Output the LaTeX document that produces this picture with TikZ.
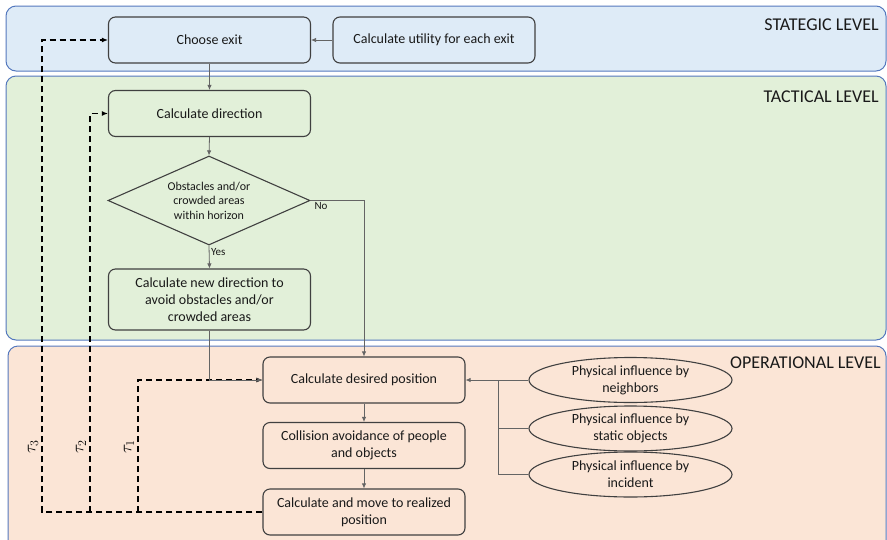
\documentclass[tikz,border=0pt]{standalone}
\usepackage{fontspec}
\setmainfont{Carlito}
\usetikzlibrary{shapes.geometric,arrows.meta}
\definecolor{stratfill}{RGB}{222,235,247}
\definecolor{tactfill}{RGB}{226,240,217}
\definecolor{operfill}{RGB}{251,229,214}
\definecolor{bandline}{RGB}{84,120,190}
\definecolor{boxline}{RGB}{64,64,64}
\definecolor{flowline}{RGB}{100,100,100}
\tikzset{
    band/.style={
        draw=bandline,
        line width=1pt,
        rounded corners=10pt
    },
    levelname/.style={
        anchor=east,
        inner sep=0pt,
        text=black!90,
        font=\fontsize{18}{20}\selectfont
    },
    procbox/.style={
        rectangle,
        draw=boxline,
        line width=1.1pt,
        rounded corners=7pt,
        minimum width=202pt,
        minimum height=46pt,
        inner sep=2pt,
        align=center,
        text=black!90,
        font=\fontsize{14}{17}\selectfont
    },
    decision/.style={
        diamond,
        draw=boxline,
        line width=1.1pt,
        aspect=2.27,
        minimum width=202pt,
        minimum height=89pt,
        inner sep=0pt,
        align=center,
        text=black!90,
        font=\fontsize{12}{14.5}\selectfont
    },
    influence/.style={
        ellipse,
        draw=boxline,
        line width=1.1pt,
        minimum width=203pt,
        minimum height=45pt,
        inner sep=0pt,
        align=center,
        text=black!90,
        font=\fontsize{14}{17}\selectfont
    },
    answer/.style={
        inner sep=1.5pt,
        text=black!90,
        font=\fontsize{11}{13}\selectfont
    },
    flow/.style={
        draw=flowline,
        line width=0.8pt,
        -{Latex[length=5pt,width=4.5pt]}
    },
    feedback/.style={
        draw=black,
        line width=1.6pt,
        dash pattern=on 6pt off 4pt,
        -{Latex[length=6pt,width=5pt]}
    },
    taulabel/.style={
        rotate=90,
        inner sep=0pt,
        font=\fontsize{17}{19}\selectfont
    }
}

\begin{document}
\begin{tikzpicture}[x=1pt, y=-1pt]
    \useasboundingbox (0,0) rectangle (887,539);
    \clip (0,0) rectangle (887,539);

    % levels
    \draw[band, fill=stratfill] (6,6) rectangle (886,71);
    \draw[band, fill=tactfill] (6,76) rectangle (886,340);
    \draw[band, fill=operfill] (8,346) rectangle (886,580);
    \node[levelname] (strategic) at (879,25) {STATEGIC LEVEL};
    \node[levelname] (tactical) at (879,97) {TACTICAL LEVEL};
    \node[levelname] (operational) at (881,363) {OPERATIONAL LEVEL};

    % steps
    \node[procbox] (choose) at (209.5,40) {Choose exit};
    \node[procbox] (utility) at (434,40) {Calculate utility for each exit};
    \node[procbox] (direction) at (209.5,113.5) {Calculate direction};
    \node[decision] (check) at (209,200.5) {Obstacles and/or\\crowded areas\\within horizon};
    \node[procbox, minimum height=61pt] (newdir) at (209.5,299.5) {Calculate new direction to\\avoid obstacles and/or\\crowded areas};
    \node[procbox] (desired) at (364,380) {Calculate desired position};
    \node[procbox] (collision) at (364,445.5) {Collision avoidance of people\\and objects};
    \node[procbox] (realized) at (364,512) {Calculate and move to realized\\position};

    \node[influence] (neighbors) at (630.5,380) {Physical influence by\\neighbors};
    \node[influence] (statics) at (630.5,428.5) {Physical influence by\\static objects};
    \node[influence] (incident) at (630.5,474.5) {Physical influence by\\incident};

    % time loops
    \coordinate (tauthree) at (42,512);
    \coordinate (tautwo) at (90,512);
    \coordinate (tauone) at (138,512);
    \draw[feedback] (realized.west) -- (tauthree) |- (choose.west);
    \draw[feedback] (tautwo) |- (direction.west);
    \draw[feedback] (tauone) |- (desired.west);
    \node[taulabel] (tthree) at (33,447) {$\tau_3$};
    \node[taulabel] (ttwo) at (81,447) {$\tau_2$};
    \node[taulabel] (tone) at (129,447) {$\tau_1$};

    % flow
    \coordinate (bus) at (498,380);
    \draw[flow] (utility.west) -- (choose.east);
    \draw[flow] (choose.south) -- (direction.north);
    \draw[flow] (direction.south) -- (check.north);
    \draw[flow] (check.south) -- node[answer, anchor=west, pos=0.3] (yes) {Yes} (newdir.north);
    \draw[flow] (check.east) -| node[answer, anchor=north west, pos=0.02] (no) {No} (desired.north);
    \draw[flow] (newdir.south) |- (desired.west);
    \draw[flow] (neighbors.west) -- (desired.east);
    \draw[draw=flowline, line width=0.8pt] (statics.west) -| (bus);
    \draw[draw=flowline, line width=0.8pt] (incident.west) -| (bus);
    \draw[flow] (desired.south) -- (collision.north);
    \draw[flow] (collision.south) -- (realized.north);

\end{tikzpicture}
\end{document}
